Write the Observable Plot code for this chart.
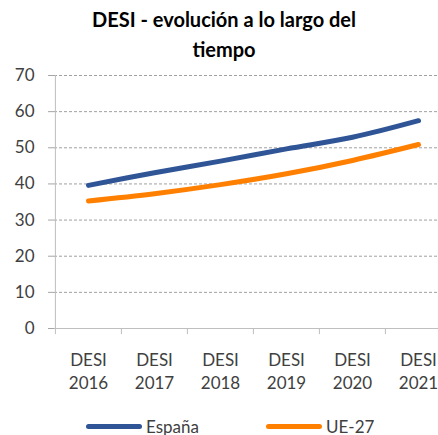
<!DOCTYPE html>
<html><head><meta charset="utf-8">
<script src="https://cdn.jsdelivr.net/npm/d3@7"></script>
<script src="https://cdn.jsdelivr.net/npm/@observablehq/plot@0.6"></script>
<style>
body{margin:0;background:#fff;font-family:Lato,"Open Sans",sans-serif;}
#wrap{width:438px;height:435px;overflow:hidden;position:relative;}
#title{height:64px;text-align:center;font-weight:bold;font-size:20px;line-height:30px;color:#000;padding-top:4px;box-sizing:border-box;padding-left:10px;}
#chart{width:438px;overflow:hidden;}
#chart svg{max-width:none !important;}
#legend{position:absolute;top:415px;left:0;width:438px;height:22px;font-size:17px;color:#404040;}
.li{position:absolute;top:0;display:flex;align-items:center;height:22px;}
.sw{width:56px;height:5px;border-radius:3px;margin-right:4px;}
</style></head>
<body><div id="wrap">
<div id="title">DESI - evolución a lo largo del<br>tiempo</div>
<div id="chart"></div>
<div id="legend"></div>
</div>
<script>
const categories = ["2016","2017","2018","2019","2020","2021"];
const espana = [39.6, 43.1, 46.3, 49.7, 52.9, 57.5];
const ue27 = [35.3, 37.3, 39.8, 42.8, 46.5, 50.9];
const yTicks = [0,10,20,30,40,50,60,70];
const seriesNames = ["España","UE-27"];
const colors = ["#2F5597","#FF8000"];

const data = [];
categories.forEach((c,i)=>{ data.push({cat:c, v:espana[i], s:seriesNames[0]}); data.push({cat:c, v:ue27[i], s:seriesNames[1]}); });

const W = 451, ml = 54;
const step = (W - ml) / categories.length;

const plot = Plot.plot({
  width: W, height: 343,
  marginLeft: ml, marginRight: 0, marginTop: 11, marginBottom: 79,
  style: {fontFamily: "Lato, 'Open Sans', sans-serif", fontSize: "17px", color: "#404040", background: "#fff", maxWidth: "none"},
  x: {type: "point", domain: categories, padding: 0.5, label: null},
  y: {domain: [0,70], label: null},
  color: {domain: seriesNames, range: colors},
  marks: [
    Plot.gridY({ticks: yTicks.filter(d=>d>0), stroke: "#a0a0a0", strokeOpacity: 1, strokeDasharray: "3,2", strokeWidth: 1}),
    Plot.ruleX(categories, {x: d=>d, dx: -step/2, y1: 0, y2: -1.7, stroke: "#bfbfbf"}),
    Plot.ruleX(categories.slice(0,1), {x: d=>d, dx: -step/2, y1: 0, y2: 70, stroke: "#bfbfbf"}),
    Plot.axisY({ticks: yTicks, tickSize: 6, tickPadding: 14, stroke: "#a6a6a6", fontSize: 17, fill: "#404040"}),
    Plot.axisX({tickSize: 0, tickPadding: 21, fontSize: 17, fill: "#404040", lineHeight: 1.35, tickFormat: d => "DESI\n" + d}),
    Plot.ruleY([0], {stroke: "#bfbfbf"}),
    Plot.line(data, {x: "cat", y: "v", z: "s", stroke: "s", strokeWidth: 5, curve: "catmull-rom", strokeLinecap: "round"})
  ]
});
document.getElementById("chart").appendChild(plot);

const leg = document.getElementById("legend");
const lefts = [86, 266];
seriesNames.forEach((n,i)=>{
  const d = document.createElement("div"); d.className="li"; d.style.left = lefts[i]+"px";
  const sw = document.createElement("div"); sw.className="sw"; sw.style.background = colors[i];
  const t = document.createElement("span"); t.textContent = n;
  d.appendChild(sw); d.appendChild(t); leg.appendChild(d);
});
</script>
</body></html>
